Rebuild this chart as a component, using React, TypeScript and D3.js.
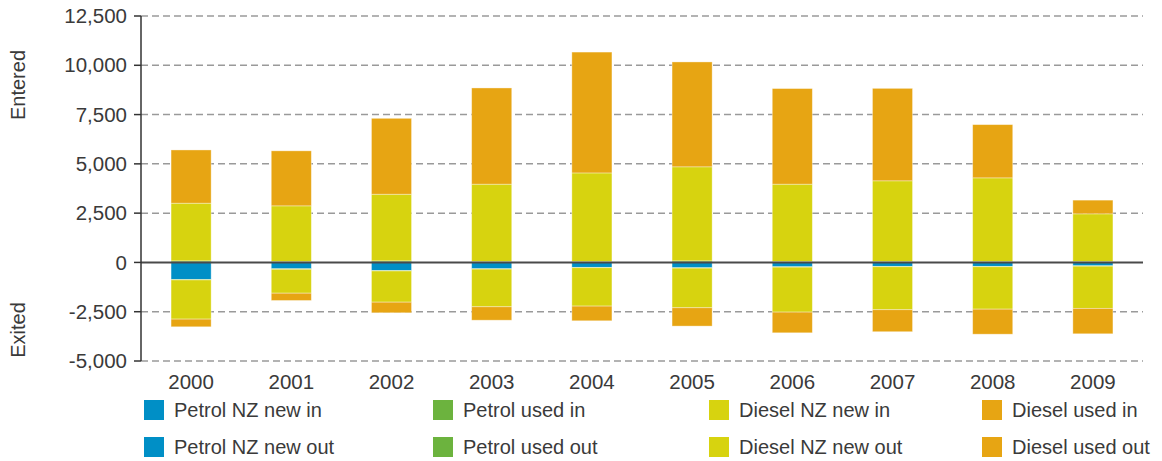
import React from "react";
import * as d3 from "d3";

const years = ["2000", "2001", "2002", "2003", "2004", "2005", "2006", "2007", "2008", "2009"];

const petrolNewIn = [20, 20, 20, 20, 20, 20, 20, 20, 20, 20];
const petrolUsedIn = [60, 30, 60, 30, 30, 60, 30, 30, 30, 30];
const dieselNewIn = [2925, 2820, 3380, 3920, 4490, 4770, 3920, 4090, 4240, 2415];
const dieselUsedIn = [2700, 2790, 3850, 4880, 6130, 5320, 4850, 4690, 2700, 695];

const petrolNewOut = [860, 320, 405, 320, 250, 270, 220, 200, 200, 170];
const petrolUsedOut = [30, 30, 30, 20, 20, 20, 20, 20, 20, 20];
const dieselNewOut = [1985, 1210, 1580, 1910, 1945, 2010, 2280, 2180, 2150, 2140];
const dieselUsedOut = [390, 370, 540, 680, 745, 930, 1050, 1115, 1270, 1290];

const yTicks = [-5000, -2500, 0, 2500, 5000, 7500, 10000, 12500];

const seriesNames = [
  "Petrol NZ new in",
  "Petrol used in",
  "Diesel NZ new in",
  "Diesel used in",
  "Petrol NZ new out",
  "Petrol used out",
  "Diesel NZ new out",
  "Diesel used out",
];

const BLUE = "#008fc6";
const GREEN = "#6cb33e";
const YELLOW = "#d7d30f";
const ORANGE = "#e7a513";
const colors = [BLUE, GREEN, YELLOW, ORANGE, BLUE, GREEN, YELLOW, ORANGE];

const FONT = "'Liberation Sans', Arial, sans-serif";
const TXT = "#3a3a3a";

export default function App() {
  const rows = years.map((y, i) => ({
    year: y,
    [seriesNames[0]]: petrolNewIn[i],
    [seriesNames[1]]: petrolUsedIn[i],
    [seriesNames[2]]: dieselNewIn[i],
    [seriesNames[3]]: dieselUsedIn[i],
    [seriesNames[4]]: -petrolNewOut[i],
    [seriesNames[5]]: -petrolUsedOut[i],
    [seriesNames[6]]: -dieselNewOut[i],
    [seriesNames[7]]: -dieselUsedOut[i],
  }));

  const stack = d3
    .stack<any>()
    .keys(seriesNames)
    .offset(d3.stackOffsetDiverging);
  const layers = stack(rows);

  const x = d3
    .scaleBand<string>()
    .domain(years)
    .range([141, 1143])
    .paddingInner(0.6)
    .paddingOuter(0.3);
  const y = d3.scaleLinear().domain([-5000, 12500]).range([361, 16]);
  const fmt = (v: number) => d3.format(",")(v).replace("\u2212", "-");

  const legendCols = [144, 433, 709, 982];
  const legendRows = [400, 437];

  return (
    <svg
      width={1162}
      height={461}
      style={{ position: "absolute", left: 0, top: 0, background: "#fff" }}
      fontFamily={FONT}
    >
      {/* grid */}
      {yTicks.map((t) => (
        <g key={t}>
          {t !== 0 && (
            <line
              x1={141}
              x2={1143}
              y1={y(t)}
              y2={y(t)}
              stroke="#9a9a9a"
              strokeWidth={1.5}
              strokeDasharray="7,4"
            />
          )}
          <line x1={134} x2={141} y1={y(t)} y2={y(t)} stroke="#333" strokeWidth={1.5} />
          <text
            x={127}
            y={y(t)}
            dy="0.35em"
            textAnchor="end"
            fontSize={20.5}
            fill={TXT}
          >
            {fmt(t)}
          </text>
        </g>
      ))}

      {/* bars */}
      {layers.map((layer, li) => (
        <g key={layer.key} fill={colors[li]}>
          {layer.map((d, i) => {
            const y0 = y(d[0]);
            const y1 = y(d[1]);
            const h = Math.abs(y0 - y1);
            if (h <= 0) return null;
            return (
              <rect
                key={i}
                x={x(d.data.year)}
                y={Math.min(y0, y1)}
                width={x.bandwidth()}
                height={h}
                stroke="#ffffff"
                strokeOpacity={0.45}
                strokeWidth={0.8}
              />
            );
          })}
        </g>
      ))}

      {/* zero line */}
      <line x1={141} x2={1143} y1={y(0)} y2={y(0)} stroke="#4a4a4a" strokeWidth={2} />
      {/* y axis */}
      <line x1={141} x2={141} y1={y(12500)} y2={y(-5000)} stroke="#333" strokeWidth={1.5} />

      {/* x labels */}
      {years.map((yr) => (
        <text
          key={yr}
          x={(x(yr) as number) + x.bandwidth() / 2}
          y={389}
          textAnchor="middle"
          fontSize={20.5}
          fill={TXT}
        >
          {yr}
        </text>
      ))}

      {/* axis titles */}
      <text
        transform="translate(25,85) rotate(-90)"
        textAnchor="middle"
        fontSize={20}
        fill={TXT}
      >
        Entered
      </text>
      <text
        transform="translate(25,330) rotate(-90)"
        textAnchor="middle"
        fontSize={20}
        fill={TXT}
      >
        Exited
      </text>

      {/* legend */}
      {seriesNames.map((name, i) => {
        const col = i % 4;
        const row = Math.floor(i / 4);
        const lx = legendCols[col];
        const ly = legendRows[row];
        return (
          <g key={name}>
            <rect x={lx} y={ly} width={20} height={20} fill={colors[i]} />
            <text x={lx + 30} y={ly + 10} dy="0.36em" fontSize={20} fill={TXT}>
              {name}
            </text>
          </g>
        );
      })}
    </svg>
  );
}
